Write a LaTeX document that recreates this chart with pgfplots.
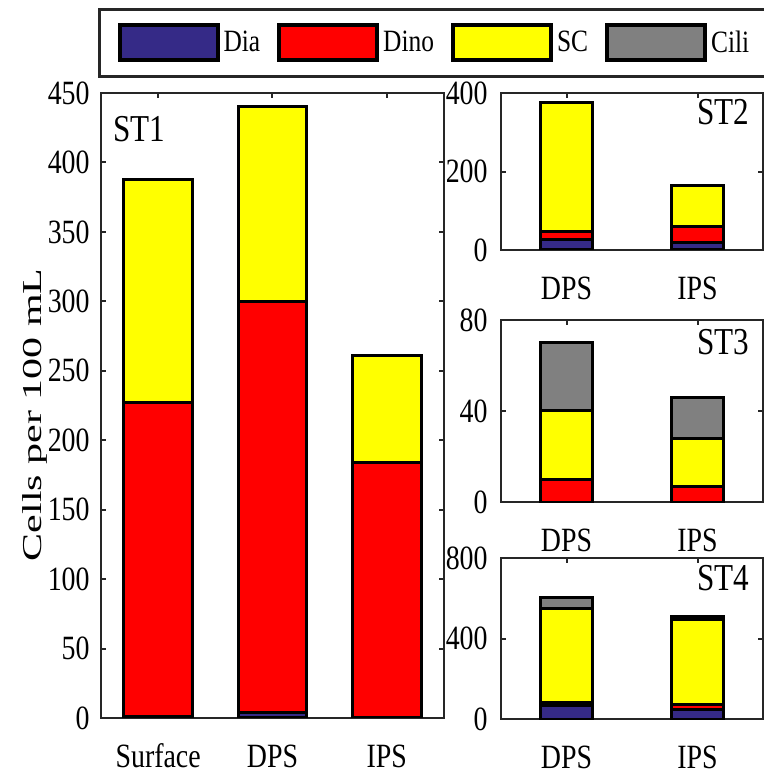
\documentclass[border=0pt]{standalone}
\usepackage{fontspec}
\setmainfont{Liberation Serif}[FakeStretch=0.82]
\newfontfamily\labfont{Liberation Serif}
\usepackage{pgfplots}
\pgfplotsset{compat=1.18}
\definecolor{dia}{RGB}{53,42,135}
\definecolor{dino}{RGB}{255,0,0}
\definecolor{sc}{RGB}{255,255,0}
\definecolor{cili}{RGB}{128,128,128}
\definecolor{axcol}{RGB}{38,38,38}
\pgfplotsset{
  panel/.style={
    scale only axis, ybar stacked, ymin=0,
    axis line style={draw=axcol, line width=1.4pt},
    tick style={draw=axcol, line width=1pt},
    tick align=inside, major tick length=2.5pt,
    /pgf/number format/assume math mode=true,
    tick label style={font=\fontsize{17}{20}\selectfont},
    xticklabel style={anchor=north, inner sep=0pt, text height=11.6pt, yshift=-13pt},
    yticklabel style={anchor=east, inner sep=0pt, xshift=-5.5pt},
    every axis plot/.append style={draw=black, line width=1.5pt},
    legend image code/.code={\draw[#1, line width=2pt] (0pt,-8.75pt) rectangle (49pt,8.75pt);},
  },
}
\tikzset{stlab/.style={anchor=base east, inner sep=0pt, font=\fontsize{19}{22}\selectfont}}
\begin{document}
\begin{tikzpicture}
\useasboundingbox (0,0) rectangle (382pt,386.5pt);
% ST1
\begin{axis}[panel, at={(50.5pt,27.5pt)}, anchor=south west,
  width=171.5pt, height=312.5pt,
  xmin=0.5, xmax=3.5, ymax=450, bar width=0.6,
  xtick={1,2,3}, xticklabels={Surface,DPS,IPS},
  ytick={0,50,...,450},
  ylabel={\scalebox{1}[0.65]{\labfont\fontsize{21}{24}\selectfont Cells per 100 mL}},
  ylabel style={at={(axis description cs:-0.192,0.485)}, anchor=center},
  legend style={at={(axis description cs:-0.0087,1.136)}, anchor=north west,
    legend columns=4, draw=axcol, line width=1.5pt, inner xsep=9pt, inner ysep=7pt,
    font=\fontsize{15.5}{18}\selectfont, legend cell align=left,
    /tikz/every even column/.append style={column sep=6.5pt}},
]
\addplot[fill=dia] coordinates {(1,1) (2,4) (3,0)};
\addplot[fill=dino] coordinates {(1,226) (2,296) (3,184)};
\addplot[fill=sc] coordinates {(1,161) (2,140) (3,77)};
\addlegendimage{fill=cili, draw=black}
\legend{Dia,Dino,SC,Cili}
\node[stlab, anchor=base west] at (rel axis cs:0.035,0.922) {ST1};
\end{axis}
% ST2
\begin{axis}[panel, at={(250.5pt,261.5pt)}, anchor=south west,
  width=131pt, height=78.5pt,
  xmin=0.5, xmax=2.5, ymax=400, bar width=0.4,
  xtick={1,2}, xticklabels={DPS,IPS}, ytick={0,200,400},
  yticklabel style={xshift=-1pt},
]
\addplot[fill=dia] coordinates {(1,28) (2,18)};
\addplot[fill=dino] coordinates {(1,18) (2,42)};
\addplot[fill=sc] coordinates {(1,329) (2,105)};
\node[stlab] at (rel axis cs:0.95,0.80) {ST2};
\end{axis}
% ST3
\begin{axis}[panel, at={(250.5pt,135.5pt)}, anchor=south west,
  width=131pt, height=91pt,
  xmin=0.5, xmax=2.5, ymax=80, bar width=0.4,
  xtick={1,2}, xticklabels={DPS,IPS}, ytick={0,40,80},
  yticklabel style={xshift=-1pt},
]
\addplot[fill=dino] coordinates {(1,10) (2,7)};
\addplot[fill=sc] coordinates {(1,30) (2,21)};
\addplot[fill=cili] coordinates {(1,30) (2,18)};
\node[stlab] at (rel axis cs:0.95,0.81) {ST3};
\end{axis}
% ST4
\begin{axis}[panel, at={(250.5pt,27pt)}, anchor=south west,
  width=131pt, height=80.5pt,
  xmin=0.5, xmax=2.5, ymax=800, bar width=0.4,
  xtick={1,2}, xticklabels={DPS,IPS}, ytick={0,400,800},
  yticklabel style={xshift=-1pt},
]
\addplot[fill=dia] coordinates {(1,65) (2,45)};
\addplot[fill=dino] coordinates {(1,15) (2,25)};
\addplot[fill=sc] coordinates {(1,467) (2,425)};
\addplot[fill=cili] coordinates {(1,58) (2,13)};
\node[stlab] at (rel axis cs:0.95,0.80) {ST4};
\end{axis}
\end{tikzpicture}
\end{document}
